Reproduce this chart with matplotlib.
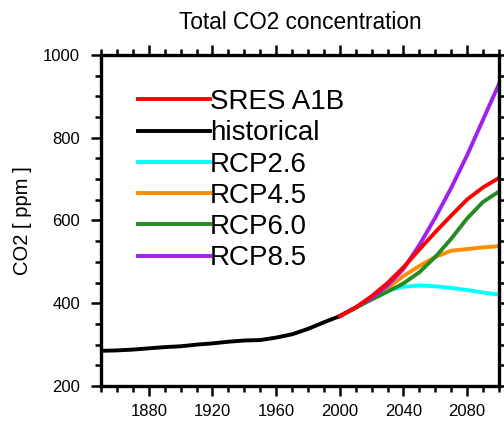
import numpy as np
import matplotlib.pyplot as plt
from matplotlib.ticker import MultipleLocator

plt.rcParams['font.family'] = ['Liberation Sans', 'DejaVu Sans']

# CO2 concentration [ppm]
hist_years = [1850, 1860, 1870, 1880, 1890, 1900, 1910, 1920, 1930, 1940,
              1950, 1960, 1970, 1980, 1990, 2000]
hist_co2 = [285, 286, 288, 291, 294, 296, 300, 303, 307, 310,
            311, 317, 325, 338, 354, 369]

scen_years = [2000, 2010, 2020, 2030, 2040, 2050, 2060, 2070, 2080, 2090, 2100]
a1b = [369, 390, 417, 449, 487, 530, 572, 612, 651, 680, 703]
rcp26 = [369, 389, 412, 431, 440, 443, 441, 437, 432, 426, 421]
rcp45 = [369, 389, 412, 437, 466, 490, 512, 527, 531, 535, 538]
rcp60 = [369, 389, 409, 428, 448, 475, 512, 556, 605, 645, 670]
rcp85 = [369, 390, 413, 443, 483, 541, 607, 679, 758, 844, 930]

fig = plt.figure(figsize=(5.04, 4.22), dpi=100)
ax = fig.add_axes([0.2004, 0.0853, 0.7897, 0.7844])

lw = 2.8
l26, = ax.plot(scen_years, rcp26, color='#00ffff', lw=lw, label='RCP2.6')
l45, = ax.plot(scen_years, rcp45, color='#ff8c00', lw=lw, label='RCP4.5')
l60, = ax.plot(scen_years, rcp60, color='#228b22', lw=lw, label='RCP6.0')
l85, = ax.plot(scen_years, rcp85, color='#a020f0', lw=lw, label='RCP8.5')
lh, = ax.plot(hist_years, hist_co2, color='black', lw=lw, label='historical')
la, = ax.plot(scen_years, a1b, color='red', lw=lw, label='SRES A1B')

ax.set_xlim(1850, 2100)
ax.set_ylim(200, 1000)
ax.set_xticks([1880, 1920, 1960, 2000, 2040, 2080])
ax.xaxis.set_minor_locator(MultipleLocator(10))
ax.yaxis.set_major_locator(MultipleLocator(200))
ax.yaxis.set_minor_locator(MultipleLocator(50))
ax.tick_params(which='both', direction='out', top=True, right=True,
               width=1.8, labelsize=12)
ax.tick_params(which='major', length=7)
ax.tick_params(which='minor', length=4)
ax.tick_params(axis='x', which='major', pad=6)
ax.tick_params(axis='y', which='major', pad=8)
for s in ax.spines.values():
    s.set_linewidth(2.4)

ax.set_title('Total CO2 concentration', fontsize=16.3, pad=19)
ax.set_ylabel('CO2 [ ppm ]', fontsize=14.5)
ax.yaxis.set_label_coords(-0.173, 0.5)

ax.legend(handles=[la, lh, l26, l45, l60, l85], loc='upper left',
          bbox_to_anchor=(0.093, 0.897), frameon=False, fontsize=20,
          handlelength=2.6, handletextpad=0.0, labelspacing=0.19,
          borderpad=0, borderaxespad=0)

fig.savefig('out.png', dpi=100)
